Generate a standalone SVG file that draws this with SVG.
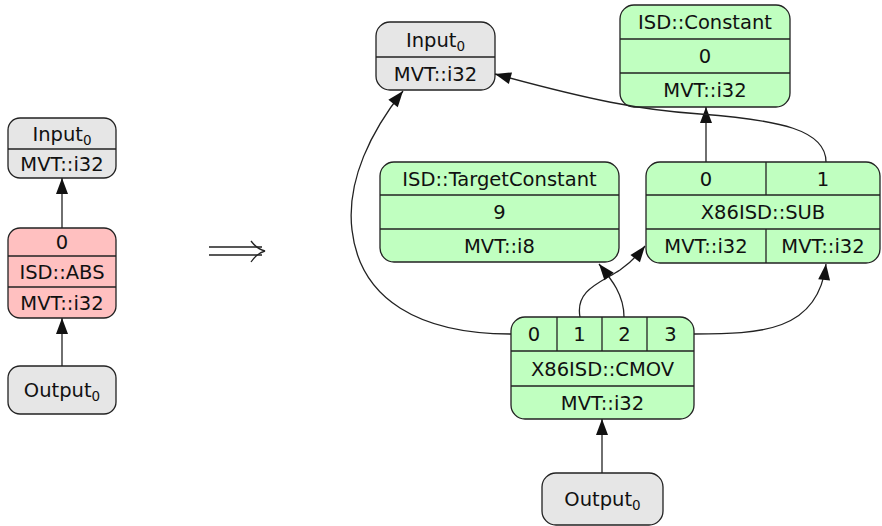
<svg xmlns="http://www.w3.org/2000/svg" width="882" height="526" viewBox="0 0 882 526">
<style>
text{font-family:"DejaVu Sans","Liberation Sans",sans-serif;font-size:19.5px;fill:#111;text-anchor:middle}
.sub{font-size:13.5px}
.gray{fill:#e6e6e6;stroke:#222;stroke-width:1.3}
.pink{fill:#ffc0c0;stroke:#222;stroke-width:1.3}
.green{fill:#c0ffc0;stroke:#222;stroke-width:1.3}
.div{stroke:#222;stroke-width:1.3;fill:none}
.edge{stroke:#222;stroke-width:1.3;fill:none;marker-end:url(#ah)}
</style>
<defs>
<marker id="ah" markerUnits="userSpaceOnUse" markerWidth="18" markerHeight="13" refX="16" refY="6" orient="auto" overflow="visible">
<path d="M0,0 L16,6 L0,12 z" fill="#111"/>
</marker>
</defs>
<g id="left-input">
<rect class="gray" x="8" y="118" width="108" height="60" rx="12"/>
<line class="div" x1="8" y1="149" x2="116" y2="149"/>
<text x="62" y="140.5">Input<tspan class="sub" dy="4">0</tspan></text>
<text x="62" y="170.5">MVT::i32</text>
</g>
<g id="left-abs">
<rect class="pink" x="8" y="228" width="108" height="90" rx="12"/>
<line class="div" x1="8" y1="256" x2="116" y2="256"/>
<line class="div" x1="8" y1="287" x2="116" y2="287"/>
<text x="62" y="249">0</text>
<text x="62" y="278.5">ISD::ABS</text>
<text x="62" y="309.5">MVT::i32</text>
</g>
<g id="left-output">
<rect class="gray" x="8" y="366" width="108" height="48" rx="12"/>
<text x="62" y="397">Output<tspan class="sub" dy="4">0</tspan></text>
</g>
<g id="implies">
<path d="M209,247 H262 M209,255 H262" stroke="#222" stroke-width="1.3" fill="none"/>
<path d="M251,241 Q257,249 265,251 Q257,253 251,262" stroke="#222" stroke-width="1.3" fill="none"/>
</g>
<g id="right-input">
<rect class="gray" x="376" y="22" width="119" height="68" rx="14"/>
<line class="div" x1="376" y1="57" x2="495" y2="57"/>
<text x="435.5" y="46.5">Input<tspan class="sub" dy="4">0</tspan></text>
<text x="435.5" y="80.5">MVT::i32</text>
</g>
<g id="constant">
<rect class="green" x="620" y="5" width="170" height="102" rx="14"/>
<line class="div" x1="620" y1="39" x2="790" y2="39"/>
<line class="div" x1="620" y1="73" x2="790" y2="73"/>
<text x="705" y="29">ISD::Constant</text>
<text x="705" y="63">0</text>
<text x="705" y="97">MVT::i32</text>
</g>
<g id="target-constant">
<rect class="green" x="380" y="162" width="239" height="100" rx="14"/>
<line class="div" x1="380" y1="195" x2="619" y2="195"/>
<line class="div" x1="380" y1="229" x2="619" y2="229"/>
<text x="499.5" y="185.5">ISD::TargetConstant</text>
<text x="499.5" y="219">9</text>
<text x="499.5" y="252.5">MVT::i8</text>
</g>
<g id="sub">
<rect class="green" x="646" y="162" width="234" height="101" rx="14"/>
<line class="div" x1="646" y1="195" x2="880" y2="195"/>
<line class="div" x1="646" y1="229" x2="880" y2="229"/>
<line class="div" x1="766" y1="162" x2="766" y2="195"/>
<line class="div" x1="766" y1="229" x2="766" y2="263"/>
<text x="706" y="185.5">0</text>
<text x="823" y="185.5">1</text>
<text x="763" y="219">X86ISD::SUB</text>
<text x="706" y="253">MVT::i32</text>
<text x="823" y="253">MVT::i32</text>
</g>
<g id="cmov">
<rect class="green" x="511" y="317" width="183" height="102" rx="14"/>
<line class="div" x1="511" y1="351" x2="694" y2="351"/>
<line class="div" x1="511" y1="386" x2="694" y2="386"/>
<line class="div" x1="557" y1="317" x2="557" y2="351"/>
<line class="div" x1="602" y1="317" x2="602" y2="351"/>
<line class="div" x1="647" y1="317" x2="647" y2="351"/>
<text x="534" y="341">0</text>
<text x="579.5" y="341">1</text>
<text x="624.5" y="341">2</text>
<text x="670.5" y="341">3</text>
<text x="602.5" y="375.5">X86ISD::CMOV</text>
<text x="602.5" y="409.5">MVT::i32</text>
</g>
<g id="right-output">
<rect class="gray" x="542" y="473" width="121" height="52" rx="14"/>
<text x="602.5" y="506">Output<tspan class="sub" dy="4">0</tspan></text>
</g>
<g id="connectors">
<path class="edge" d="M62,228 V178"/>
<path class="edge" d="M62,366 V318"/>
<path class="edge" d="M511,334 C420,334 360,300 352,230 C346,180 372,130 403,91"/>
<path class="edge" d="M580,317 C575,290 600,283 620,270 C630,263 638,255 645,246"/>
<path class="edge" d="M624,317 C624,295 612,280 599,264"/>
<path class="edge" d="M694,334 C760,334 818,332 826,264"/>
<path class="edge" d="M706,162 V107"/>
<path class="edge" d="M826,162 C826,130 780,120 700,114 C640,110 590,100 495,74"/>
<path class="edge" d="M602,473 V419"/>
</g>
</svg>
